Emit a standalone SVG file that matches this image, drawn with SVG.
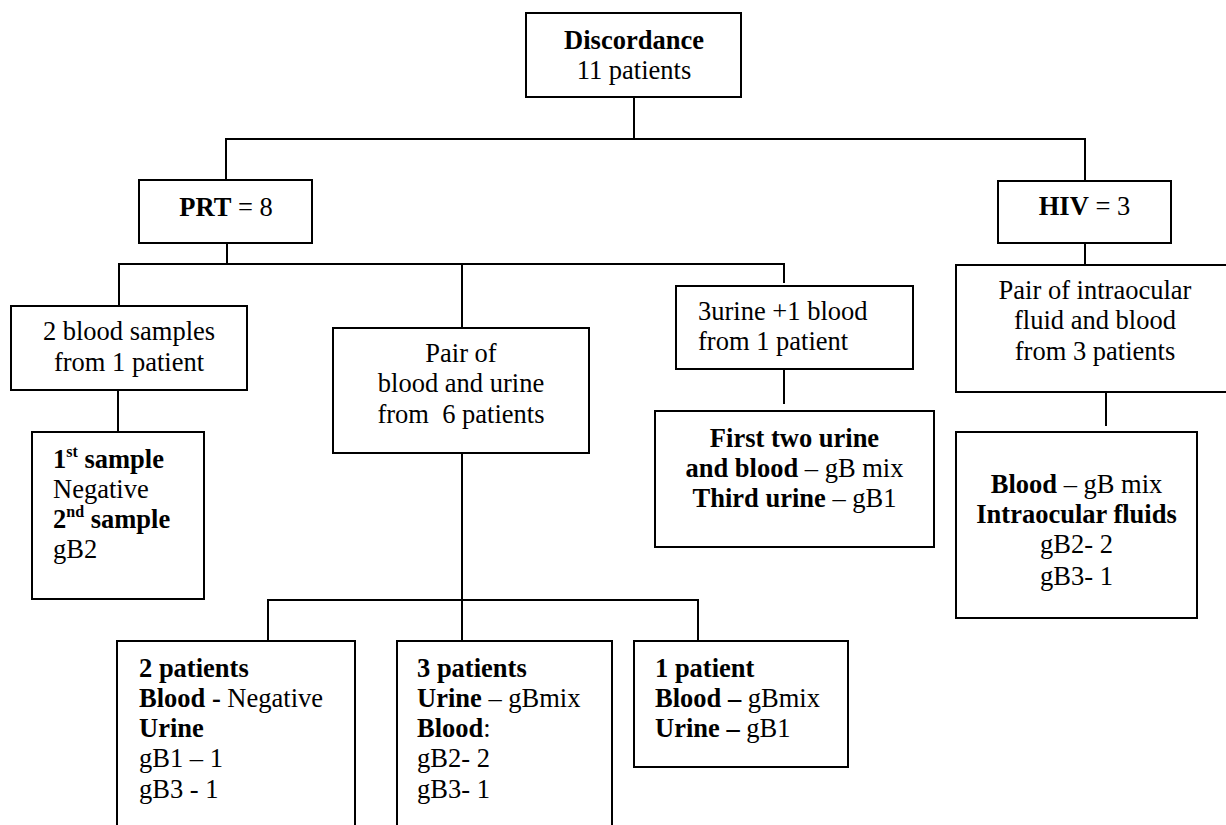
<svg xmlns="http://www.w3.org/2000/svg" width="1226" height="825" viewBox="0 0 1226 825">
<style>
  .box { fill: #ffffff; stroke: #000000; stroke-width: 2; }
  .conn { fill: none; stroke: #000000; stroke-width: 2; }
  .c { text-anchor: middle; }
  .b { font-weight: bold; }
  .sup { font-size: 16px; font-weight: bold; }
</style>
<rect x="0" y="0" width="1226" height="825" fill="#ffffff"/>
<g id="connectors">
  <path class="conn" d="M634,97 V139 M226,180 V139 H1085 V181"/>
  <path class="conn" d="M227,243 V264 M119,306 V264 H784 V283 M462,264 V328"/>
  <path class="conn" d="M118,390 V432"/>
  <path class="conn" d="M784,369 V404"/>
  <path class="conn" d="M1085,243 V265"/>
  <path class="conn" d="M1106,392 V426"/>
  <path class="conn" d="M462,453 V641 M268,641 V600 H698 V641"/>
</g>
<g font-family="Liberation Serif, DejaVu Serif, serif" font-size="26.5" fill="#000000">
<g id="node-discordance">
  <rect class="box" x="526" y="13" width="215" height="84"/>
  <text class="c b" x="634" y="49">Discordance</text>
  <text class="c" x="634" y="79">11 patients</text>
</g>
<g id="node-prt">
  <rect class="box" x="139" y="180" width="173" height="63"/>
  <text class="c" x="226" y="216"><tspan class="b">PRT</tspan> = 8</text>
</g>
<g id="node-hiv">
  <rect class="box" x="998" y="181" width="173" height="62"/>
  <text class="c" x="1084.5" y="215"><tspan class="b">HIV</tspan> = 3</text>
</g>
<g id="node-2blood">
  <rect class="box" x="11" y="306" width="236" height="84"/>
  <text class="c" x="129" y="340">2 blood samples</text>
  <text class="c" x="129" y="371">from 1 patient</text>
</g>
<g id="node-pair-blood-urine">
  <rect class="box" x="333" y="328" width="256" height="125"/>
  <text class="c" x="461" y="362">Pair of</text>
  <text class="c" x="461" y="392">blood and urine</text>
  <text class="c" x="461" y="423" xml:space="preserve">from  6 patients</text>
</g>
<g id="node-3urine">
  <rect class="box" x="676" y="286" width="237" height="83"/>
  <text x="698" y="320">3urine +1 blood</text>
  <text x="698" y="350">from 1 patient</text>
</g>
<g id="node-pair-intraocular">
  <rect class="box" x="956" y="265" width="290" height="127"/>
  <text class="c" x="1095" y="299">Pair of intraocular</text>
  <text class="c" x="1095" y="329">fluid and blood</text>
  <text class="c" x="1095" y="360">from 3 patients</text>
</g>
<g id="node-samples">
  <rect class="box" x="32" y="432" width="172" height="167"/>
  <text x="53" y="468"><tspan class="b">1</tspan><tspan class="sup" dy="-11">st</tspan><tspan class="b" dy="11"> sample</tspan></text>
  <text x="53" y="498">Negative</text>
  <text x="53" y="528"><tspan class="b">2</tspan><tspan class="sup" dy="-11">nd</tspan><tspan class="b" dy="11"> sample</tspan></text>
  <text x="53" y="558">gB2</text>
</g>
<g id="node-first-two-urine">
  <rect class="box" x="655" y="411" width="279" height="136"/>
  <text class="c b" x="794.5" y="447">First two urine</text>
  <text class="c" x="794.5" y="477"><tspan class="b">and blood</tspan> – gB mix</text>
  <text class="c" x="794.5" y="507"><tspan class="b">Third urine</tspan> – gB1</text>
</g>
<g id="node-blood-intraocular">
  <rect class="box" x="956" y="432" width="241" height="186"/>
  <text class="c" x="1076.5" y="493"><tspan class="b">Blood</tspan> – gB mix</text>
  <text class="c b" x="1076.5" y="523">Intraocular fluids</text>
  <text class="c" x="1076.5" y="553">gB2- 2</text>
  <text class="c" x="1076.5" y="585">gB3- 1</text>
</g>
<g id="node-2patients">
  <rect class="box" x="117" y="641" width="238" height="200"/>
  <text class="b" x="139" y="677">2 patients</text>
  <text x="139" y="707"><tspan class="b">Blood -</tspan> Negative</text>
  <text class="b" x="139" y="737">Urine</text>
  <text x="139" y="767">gB1 – 1</text>
  <text x="139" y="798">gB3 - 1</text>
</g>
<g id="node-3patients">
  <rect class="box" x="397" y="641" width="215" height="200"/>
  <text class="b" x="417" y="677">3 patients</text>
  <text x="417" y="707"><tspan class="b">Urine</tspan> – gBmix</text>
  <text x="417" y="737"><tspan class="b">Blood</tspan>:</text>
  <text x="417" y="767">gB2- 2</text>
  <text x="417" y="798">gB3- 1</text>
</g>
<g id="node-1patient">
  <rect class="box" x="634" y="641" width="214" height="126"/>
  <text class="b" x="655" y="677">1 patient</text>
  <text x="655" y="707"><tspan class="b">Blood –</tspan> gBmix</text>
  <text x="655" y="737"><tspan class="b">Urine –</tspan> gB1</text>
</g>
</g>
</svg>
